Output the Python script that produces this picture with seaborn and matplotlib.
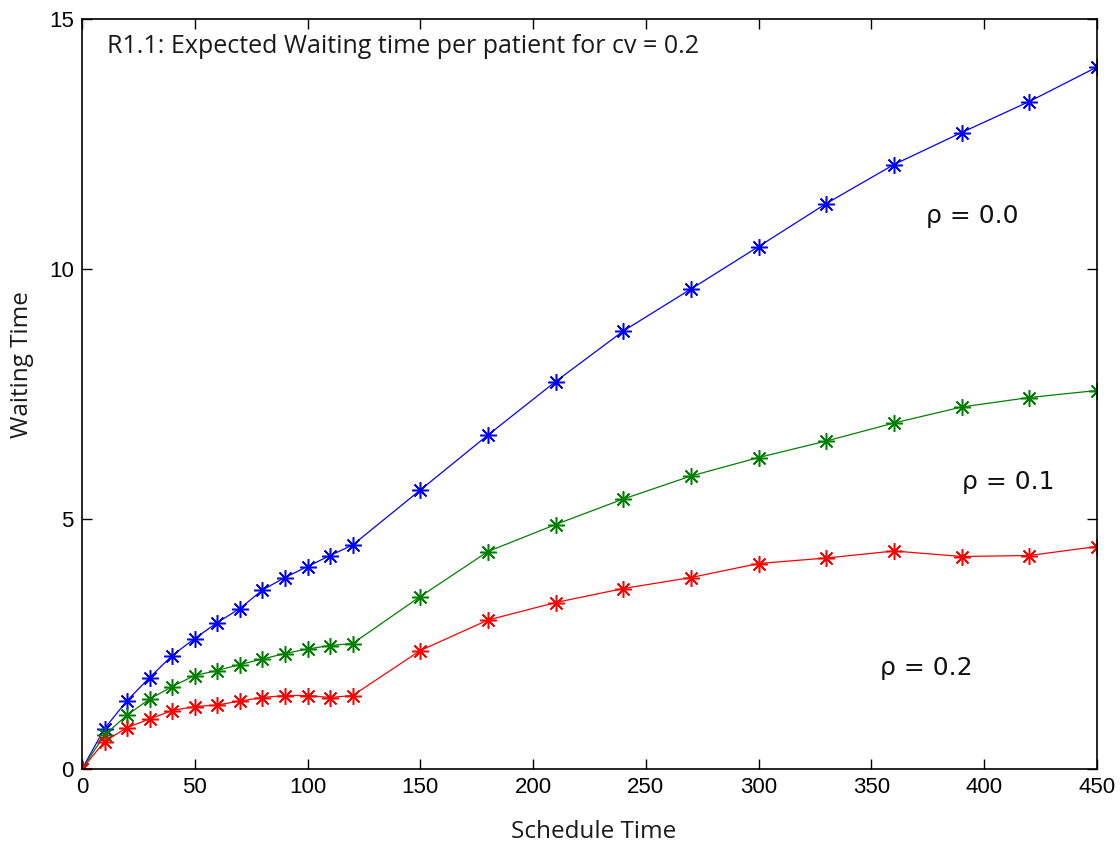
import numpy as np
import pandas as pd
import matplotlib
matplotlib.use("Agg")
import matplotlib.pyplot as plt
import seaborn as sns

schedule_time = [0, 10, 20, 30, 40, 50, 60, 70, 80, 90, 100, 110, 120,
                 150, 180, 210, 240, 270, 300, 330, 360, 390, 420, 450]
wait_rho00 = [0, 0.81, 1.37, 1.83, 2.27, 2.61, 2.93, 3.21, 3.58, 3.83, 4.05, 4.27, 4.48,
              5.58, 6.68, 7.75, 8.76, 9.60, 10.45, 11.31, 12.09, 12.73, 13.35, 14.04]
wait_rho01 = [0, 0.68, 1.08, 1.40, 1.65, 1.87, 1.97, 2.09, 2.20, 2.31, 2.40, 2.47, 2.51,
              3.45, 4.35, 4.89, 5.40, 5.86, 6.23, 6.56, 6.92, 7.24, 7.43, 7.57]
wait_rho02 = [0, 0.55, 0.83, 1.00, 1.17, 1.25, 1.28, 1.36, 1.43, 1.47, 1.47, 1.43, 1.47,
              2.37, 2.98, 3.33, 3.61, 3.83, 4.11, 4.22, 4.36, 4.25, 4.27, 4.45]
series_labels = ["ρ = 0.0", "ρ = 0.1", "ρ = 0.2"]
series_colors = ["#0000ff", "#008000", "#ff0000"]
x_ticks = [0, 50, 100, 150, 200, 250, 300, 350, 400, 450]
y_ticks = [0, 5, 10, 15]

sns.set_style("ticks")
plt.rcParams["font.family"] = ["DejaVu Sans"]

fig = plt.figure(figsize=(11.2, 8.46), dpi=100)
ax = fig.add_axes([82 / 1120, 1 - 769 / 846, (1097 - 82) / 1120, (769 - 19) / 846])

for vals, col in zip([wait_rho00, wait_rho01, wait_rho02], series_colors):
    df = pd.DataFrame({"x": schedule_time, "y": vals})
    sns.lineplot(data=df, x="x", y="y", ax=ax, color=col, linewidth=0.9,
                 marker=(8, 2, 0), markersize=12, markeredgecolor=col,
                 markeredgewidth=1.1, estimator=None, sort=False)

ax.set_xlim(0, 450)
ax.set_ylim(0, 15)
ax.set_xticks(x_ticks)
ax.set_yticks(y_ticks)
ax.tick_params(direction="in", top=True, right=True, length=7, width=1, colors="black",
               labelsize=16, pad=6)
for lab in ax.get_xticklabels() + ax.get_yticklabels():
    lab.set_family(["Liberation Sans", "DejaVu Sans"])
for sp in ax.spines.values():
    sp.set_color("black")
    sp.set_linewidth(1.2)

lab_font = ["Open Sans", "DejaVu Sans"]
ax.set_xlabel("Schedule Time", fontsize=17.5, family=lab_font, color="#1a1a1a", va="center")
ax.set_ylabel("Waiting Time", fontsize=17.5, family=lab_font, color="#1a1a1a", va="center")
ax.xaxis.set_label_coords(0.504, -0.084)
ax.yaxis.set_label_coords(-0.059, 0.539)

ax.text(0.0246, 0.9547, "R1.1: Expected Waiting time per patient for cv = 0.2", transform=ax.transAxes,
        fontsize=18, family=lab_font, color="#1a1a1a", va="baseline", ha="left")

label_pos = [(374, 11.07), (390, 5.74), (354, 2.03)]
for lab, (tx, ty) in zip(series_labels, label_pos):
    ax.text(tx, ty, lab, fontsize=18, color="#111111", va="center", ha="left",
            family=["DejaVu Sans"])

fig.savefig("out.png", dpi=100)
